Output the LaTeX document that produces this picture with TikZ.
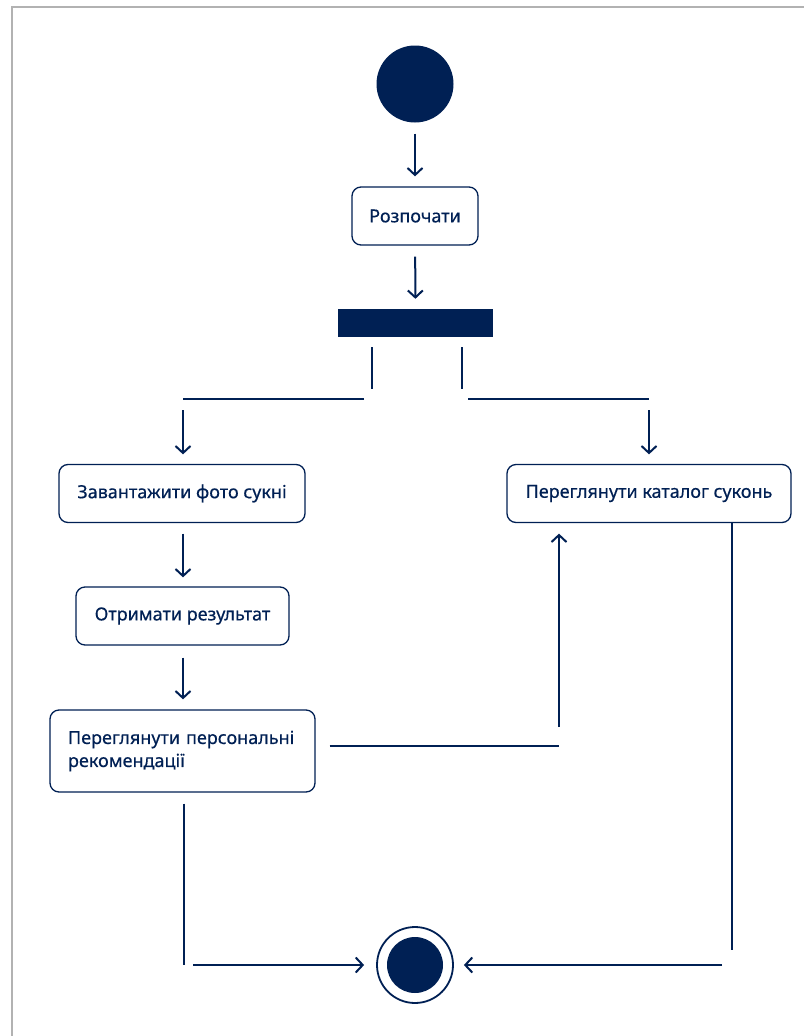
\documentclass[tikz,border=0pt]{standalone}
\usepackage{fontspec}
\setmainfont{Noto Sans}
\newfontfamily\medfont[FakeBold=0.45]{Noto Sans}
\usetikzlibrary{arrows.meta}
\definecolor{navy}{RGB}{0,32,84}
\definecolor{framegray}{RGB}{178,178,178}
\begin{document}
\begin{tikzpicture}[x=1pt,y=-1pt,
  conn/.style={draw=navy,line width=2pt},
  arr/.style={conn,-{Straight Barb[length=7pt,width=15pt]}},
  actbox/.style={draw=navy,line width=1.3pt,rounded corners=9pt,text=navy,
    font=\medfont\fontsize{18}{23}\selectfont,inner sep=0pt,align=center},
  dot/.style={circle,fill=navy,inner sep=0pt},
]
\useasboundingbox (0,0) rectangle (804,1036);
\fill[white] (0,0) rectangle (804,1036);
\draw[framegray,line width=2pt] (11.5,1036) -- (11.5,7) -- (804,7);

% nodes
\node[dot,minimum size=77pt] (start) at (415,84) {};
\node[actbox,minimum width=126pt,minimum height=58pt] (begin) at (415,216) {Розпочати};
\node[fill=navy,minimum width=155pt,minimum height=28pt,inner sep=0pt] (fork) at (415.5,323) {};
\node[actbox,minimum width=246pt,minimum height=58pt] (upload) at (182,493.5) {Завантажити фото сукні};
\node[actbox,minimum width=213pt,minimum height=58pt] (result) at (182.5,616) {Отримати результат};
\node[actbox,align=left,text width=229pt,inner xsep=18pt,minimum height=82pt] (recom) at (182.5,751) {Переглянути персональні\\рекомендації};
\node[actbox,minimum width=284pt,minimum height=58pt] (catalog) at (649,493.5) {Переглянути каталог суконь};
\node[circle,draw=navy,line width=1.8pt,minimum size=76pt,inner sep=0pt] (end) at (415,965) {};
\node[dot,minimum size=56pt] (endcore) at (end.center) {};

% helper coordinates
\coordinate (fl) at (372,389);
\coordinate (fr) at (462,389);
\coordinate (lh1) at (364,399);
\coordinate (lh2) at (183,399);
\coordinate (rh1) at (468,399);
\coordinate (rh2) at (649,399);
\coordinate (rc) at (559,746);
\coordinate (lb) at (184,965);
\coordinate (rb) at (732,965);

% connectors
\draw[arr,shorten <=11pt,shorten >=10pt] (start) -- (begin);
\draw[arr,shorten <=11pt,shorten >=10pt] (begin) -- (fork);
\draw[conn,shorten <=10pt] (fork.south -| fl) -- (fl);
\draw[conn,shorten <=10pt] (fork.south -| fr) -- (fr);
\draw[conn] (lh1) -- (lh2);
\draw[conn] (rh1) -- (rh2);
\draw[arr,shorten <=11pt,shorten >=9.5pt] (lh2) -- (upload.north -| lh2);
\draw[arr,shorten <=11pt,shorten >=9.5pt] (rh2) -- (catalog.north -| rh2);
\draw[arr,shorten <=10.5pt,shorten >=9pt] (upload.south -| lh2) -- (result.north -| lh2);
\draw[arr,shorten <=12pt,shorten >=10pt] (result.south -| lh2) -- (recom.north -| lh2);
\draw[conn,shorten <=14pt] (recom.east |- rc) -- (rc);
\draw[arr,shorten <=19pt,shorten >=10.5pt] (rc) -- (catalog.south -| rc);
\draw[conn,shorten <=11pt] (recom.south -| lb) -- (lb);
\draw[arr,shorten <=9pt,shorten >=12pt] (lb) -- (end);
\draw[conn,shorten >=15pt] (catalog.south -| rb) -- (rb);
\draw[arr,shorten <=10pt,shorten >=10pt] (rb) -- (end);
\end{tikzpicture}
\end{document}
